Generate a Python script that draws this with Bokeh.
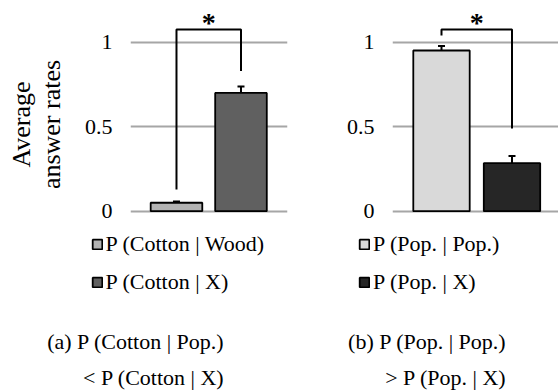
from math import pi
from bokeh.plotting import figure
from bokeh.layouts import row, column
from bokeh.models import (ColumnDataSource, Range1d, FixedTicker, Whisker, TeeHead,
                          Legend, LegendItem, Label)
from bokeh.embed import file_html
from bokeh.resources import INLINE

# ---------------- data ----------------
left_labels = ["P (Cotton | Wood)", "P (Cotton | X)"]
left_values = [0.05, 0.70]
left_errors = [0.008, 0.038]
left_colors = ["#b3b3b3", "#606060"]
left_bracket = [0.128, 1.075, 1.075, 0.83]
left_caption = ["(a) P (Cotton | Pop.)", "< P (Cotton | X)"]

right_labels = ["P (Pop. | Pop.)", "P (Pop. | X)"]
right_values = [0.951, 0.284]
right_errors = [0.027, 0.043]
right_colors = ["#d9d9d9", "#262626"]
right_bracket = [1.04, 1.075, 1.075, 0.49]
right_caption = ["(b) P (Pop. | Pop.)", "> P (Pop. | X)"]

y_ticks = [0, 0.5, 1]
y_tick_labels = ["0", "0.5", "1"]
y_title = "Average\nanswer rates"
star = "*"

# ---------------- layout constants ----------------
FONT = "Liberation Serif"
W, H = 558, 392
HC = 222                 # height of the chart row
PX_UNIT = 169.0          # pixels per y unit
Y0_PAGE = 210.7          # page y of value 0
Y_END = Y0_PAGE / PX_UNIT
Y_START = -(HC - Y0_PAGE) / PX_UNIT


def ydata(page_y):
    return (Y0_PAGE - page_y) / PX_UNIT


def bare(p):
    p.outline_line_color = None
    p.background_fill_color = None
    p.border_fill_color = None
    p.grid.visible = False
    return p


def bar_source(labels, values, errors, colors):
    return ColumnDataSource(dict(
        x=[i + 0.5 for i in range(len(values))], top=values, color=colors,
        label=labels,
        upper=[v + e for v, e in zip(values, errors)],
        lower=[v - e for v, e in zip(values, errors)]))


def make_panel(src, bracket, width, border_left, border_right, x_start, px_per_x):
    frame_w = width - border_left - border_right
    x_end = x_start + frame_w / px_per_x
    p = figure(width=width, height=HC, output_backend="svg", toolbar_location=None,
               x_range=Range1d(x_start, x_end), y_range=Range1d(Y_START, Y_END),
               x_axis_location=None, min_border_left=border_left,
               min_border_right=border_right, min_border_top=0, min_border_bottom=0)
    p.outline_line_color = None
    p.background_fill_color = None
    p.border_fill_color = None
    p.xgrid.visible = False

    p.ygrid.ticker = FixedTicker(ticks=y_ticks)
    p.ygrid.grid_line_color = "#a6a6a6"
    p.ygrid.grid_line_width = 2
    ax = p.yaxis[0]
    ax.ticker = FixedTicker(ticks=y_ticks)
    ax.major_label_overrides = {t: l for t, l in zip(y_ticks, y_tick_labels)}
    ax.axis_line_color = None
    ax.major_tick_line_color = None
    ax.minor_tick_line_color = None
    ax.major_tick_out = 0
    ax.major_tick_in = 0
    ax.major_label_standoff = 18
    ax.major_label_text_font = FONT
    ax.major_label_text_font_size = "22px"
    ax.major_label_text_color = "black"

    p.vbar(x="x", top="top", bottom=0, width=0.8, source=src,
           fill_color="color", line_color="black", line_width=1.8)

    w = Whisker(source=src, base="x", upper="upper", lower="lower",
                line_color="black", line_width=2,
                upper_head=TeeHead(size=7, line_width=2, line_color="black"),
                lower_head=TeeHead(size=7, line_width=2, line_color="black"))
    p.add_layout(w)

    xs = src.data["x"]
    p.line(x=[xs[0], xs[0], xs[1], xs[1]], y=bracket, line_color="black", line_width=2)
    p.add_layout(Label(x=(xs[0] + xs[1]) / 2, y=ydata(21.5), text=star,
                       text_font=FONT, text_font_size="28px", text_font_style="bold",
                       text_align="center", text_baseline="alphabetic",
                       text_color="black"))
    return p


src_left = bar_source(left_labels, left_values, left_errors, left_colors)
src_right = bar_source(right_labels, right_values, right_errors, right_colors)

# y-axis title strip (page coordinates)
p0 = bare(figure(width=70, height=HC, output_backend="svg", toolbar_location=None,
                 x_range=Range1d(0, 70), y_range=Range1d(HC, 0),
                 x_axis_location=None, y_axis_location=None,
                 min_border_left=0, min_border_right=0, min_border_top=0,
                 min_border_bottom=0))
p0.add_layout(Label(x=36, y=124, text=y_title, angle=pi / 2,
                    text_font=FONT, text_font_size="26px", text_color="black",
                    text_align="center", text_baseline="middle",
                    text_line_height=1.05))

p1 = make_panel(src_left, left_bracket, width=220, border_left=60, border_right=3,
                x_start=-0.213, px_per_x=64.5)
p2 = make_panel(src_right, right_bracket, width=W - 290, border_left=102,
                border_right=0, x_start=-0.195, px_per_x=70.5)

# legends and captions strip (page coordinates)
HB = H - HC
p3 = bare(figure(width=W, height=HB, output_backend="svg", toolbar_location=None,
                 x_range=Range1d(0, W), y_range=Range1d(H, HC),
                 x_axis_location=None, y_axis_location=None,
                 min_border_left=0, min_border_right=0, min_border_top=0,
                 min_border_bottom=0))

for src, lx, caption, cap_right in [(src_left, 90.5, left_caption, 224),
                                    (src_right, 358, right_caption, 506)]:
    # legend proxy for the bars (hidden; only its legend swatches are shown)
    r = p3.vbar(x="x", top="top", bottom=0, width=0.8, source=src,
                fill_color="color", line_color="black", line_width=1.8)
    r.visible = False
    items = [LegendItem(label=lab, renderers=[r], index=i)
             for i, lab in enumerate(src.data["label"])]
    legend = Legend(items=items, location=(lx, H - 294.5), orientation="vertical",
                    label_text_font=FONT, label_text_font_size="22px",
                    label_text_color="black", glyph_width=12, glyph_height=12,
                    label_height=25, label_standoff=3, spacing=12, padding=0,
                    margin=0, border_line_color=None, background_fill_alpha=0,
                    inactive_fill_alpha=0)
    p3.add_layout(legend)
    for txt, cy in zip(caption, [341, 377]):
        p3.add_layout(Label(x=cap_right, y=cy, text=txt,
                            text_font=FONT, text_font_size="22px", text_color="black",
                            text_align="right", text_baseline="middle"))

layout = column(row(p0, p1, p2, spacing=0), p3, spacing=0)
open("out.html", "w").write(file_html(layout, INLINE))
